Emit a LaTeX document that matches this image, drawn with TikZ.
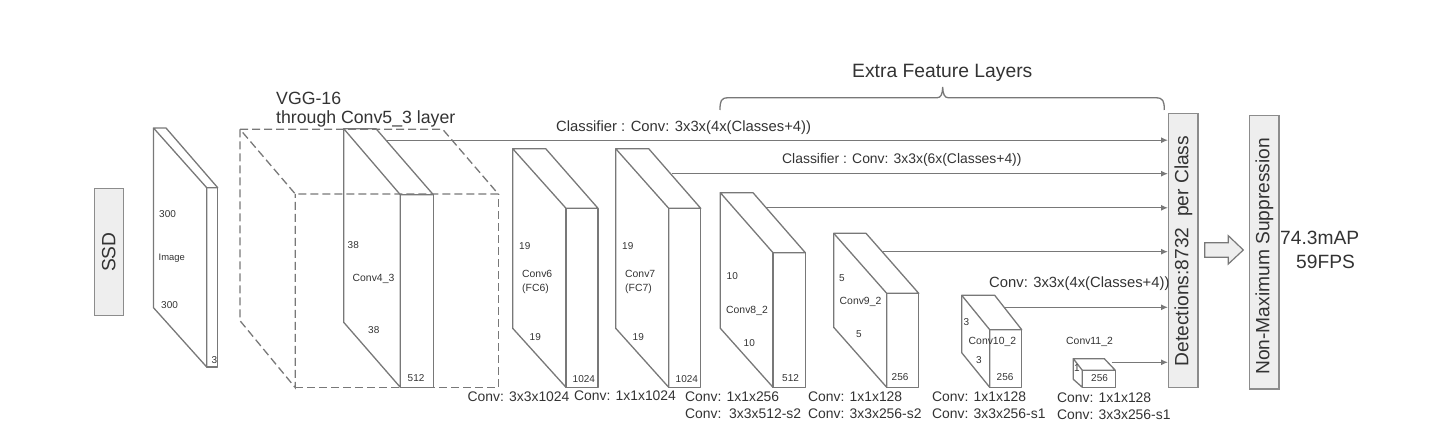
\documentclass[tikz,border=0pt]{standalone}
\usepackage{fontspec}
\setmainfont{Liberation Sans}
\usetikzlibrary{arrows.meta}
\definecolor{ln}{HTML}{787878}
\definecolor{tx}{HTML}{333333}
\definecolor{pan}{HTML}{EEEEEE}
\newcommand{\cuboid}[9]{% xl yt yl xf xr yf yb back-right name
  \draw[layer] (#1,#2) -- (#8,#2) -- (#5,#6) -- (#4,#6) -- cycle;
  \draw[layer] (#1,#2) -- (#1,#3) -- (#4,#7) -- (#4,#6);
  \draw[layer] (#4,#6) rectangle (#5,#7);
  \coordinate (#9) at (#5,#6);
}
\tikzset{
  layer/.style={draw=ln,line width=1.3pt,line join=round},
  dashedbox/.style={draw=ln,line width=1.3pt,dash pattern=on 8pt off 4pt},
  panel/.style={draw=ln!85,fill=pan,line width=1.4pt,inner sep=0pt,anchor=north west},
  arr/.style={draw=ln,line width=1.3pt,-{Latex[length=7pt,width=6pt]}},
  num/.style={text=tx,font=\fontsize{10}{11}\selectfont,inner sep=0pt,anchor=west},
  cname/.style={text=tx,font=\fontsize{10.4}{13.5}\selectfont,inner sep=0pt,anchor=west,align=left},
  small/.style={text=tx,font=\fontsize{13.9}{15}\selectfont,inner sep=0pt,anchor=west},
  wide/.style={text=tx,font=\fontsize{14.8}{15}\selectfont,inner sep=0pt,anchor=west},
  big/.style={text=tx,font=\fontsize{19.2}{22}\selectfont,inner sep=0pt},
}
\begin{document}
\begin{tikzpicture}[x=1pt,y=-1pt]
\useasboundingbox (0,0) rectangle (1435,435);
% panels
\node[panel,minimum width=28.8pt,minimum height=127pt] (ssd) at (93.7,188) {};
\node[big,rotate=90] at (ssd.center) {SSD};
\node[panel,minimum width=29.3pt,minimum height=274.3pt] (det) at (1168,112.7) {};
\node[big,rotate=90,xshift=-0.5pt] at (det.center) {Detections:8732\ \ per Class};
\node[panel,minimum width=29.3pt,minimum height=273.3pt] (nms) at (1249,115) {};
\node[big,rotate=90,xshift=-4pt] at (nms.center) {Non-Maximum Suppression};
% dashed VGG box
\draw[dashedbox] (240,129.3) -- (442.7,129.3) -- (498.3,194) -- (295.3,194) -- cycle;
\draw[dashedbox] (240,129.3) -- (240,320.7) -- (295.3,387.7) -- (295.3,194);
\draw[dashedbox] (295.3,387.7) -- (498.3,387.7) -- (498.3,194);
% layers
\cuboid{153.5}{128}{307.7}{206.7}{217.7}{187.7}{367}{166}{img}
\cuboid{343.7}{128.7}{322.3}{400.3}{433.3}{194.7}{387.3}{376}{c4}
\cuboid{512.7}{148.7}{328.3}{566}{598}{208.3}{387.3}{545.7}{c6}
\cuboid{615.7}{148.7}{328.3}{668.7}{700.7}{208.3}{387.3}{648.7}{c7}
\cuboid{720.3}{192.7}{328.3}{773}{805.3}{252.7}{387.3}{753}{c8}
\cuboid{833.7}{233.3}{327.3}{886.7}{918.7}{293.3}{387.3}{866}{c9}
\cuboid{961.7}{295.3}{352.7}{989.7}{1021.7}{329.7}{387.3}{994.7}{c10}
\cuboid{1073.3}{358.7}{379.3}{1082.3}{1115.3}{370.3}{387.3}{1104.3}{c11}
% connector start points
\coordinate (s4) at (386,140.2);
\coordinate (s7) at (671.7,173.7);
\coordinate (s8) at (766,207.8);
\coordinate (s9) at (882.7,251.7);
\coordinate (s10) at (1004,307.3);
\coordinate (s11) at (1111.7,362.3);
\foreach \s in {s4,s7,s8,s9,s10,s11}
  \draw[arr] (\s) -- (\s -| det.west);
% block arrow
\draw[draw=ln,fill=pan,line width=1.2pt] (1204.7,242.7) -- (1228.3,242.7) -- (1228.3,235.7) -- (1243.3,250) -- (1228.3,264) -- (1228.3,257.3) -- (1204.7,257.3) -- cycle;
% brace
\coordinate (bl) at (720,110);
\coordinate (br) at (1164.3,110);
\draw[draw=ln,line width=1.3pt] (bl) .. controls (720,101) and (721,97.8) .. (728,97.8) -- (937,97.8) .. controls (941,97.8) and (942.5,94) .. (942.7,87) .. controls (942.9,94) and (944.4,97.8) .. (948.4,97.8) -- (1156,97.8) .. controls (1163,97.8) and (1164.3,101) .. (br);
% text
\node[big,anchor=west,font=\fontsize{19.3}{22}\selectfont] (efl) at (852,72.5) {Extra Feature Layers};
\node[big,anchor=west,font=\fontsize{17.7}{20}\selectfont] (vgg1) at (276,98) {VGG-16};
\node[big,anchor=west,font=\fontsize{17.7}{20}\selectfont] (vgg2) at (276,119) {through Conv5\_3 layer};
\node[wide] (cl1) at (556,127.5) {Classifier : Conv: 3x3x(4x(Classes+4))};
\node[small] (cl2) at (782,159.5) {Classifier : Conv: 3x3x(6x(Classes+4))};
\node[wide] (cl3) at (989,284) {Conv: 3x3x(4x(Classes+4))};
\node[big,anchor=west] (map) at (1280,238) {74.3mAP};
\node[big,anchor=west] (fps) at (1296,262) {59FPS};
% layer labels
\node[num] at (159,214.5) {300};
\node[cname,font=\fontsize{9.4}{11}\selectfont] at (158.5,258) {Image};
\node[num] at (161,305.5) {300};
\node[num] at (211.5,360.5) {3};
\node[num] at (347.5,245.5) {38};
\node[cname] at (352.5,279) {Conv4\_3};
\node[num] at (368,330.5) {38};
\node[num] at (407.5,378.5) {512};
\node[num] at (519,246) {19};
\node[cname] at (522,282) {Conv6\\(FC6)};
\node[num] at (529.5,337.5) {19};
\node[num] at (572.5,379) {1024};
\node[num] at (622,246) {19};
\node[cname] at (625,282) {Conv7\\(FC7)};
\node[num] at (632.5,337.5) {19};
\node[num] at (675.5,379) {1024};
\node[num] at (726.5,276) {10};
\node[cname] at (726,311) {Conv8\_2};
\node[num] at (743.5,343.5) {10};
\node[num] at (782,378) {512};
\node[num] at (839,278.5) {5};
\node[cname] at (839.5,302) {Conv9\_2};
\node[num] at (856,334.5) {5};
\node[num] at (891.5,377.5) {256};
\node[num] at (963.5,322) {3};
\node[cname] at (968.5,341.5) {Conv10\_2};
\node[num] at (976,360) {3};
\node[num] at (996.5,377) {256};
\node[cname] at (1066,342) {Conv11\_2};
\node[num] at (1074,368) {1};
\node[num] at (1091,378) {256};
% conv labels
\node[small] at (467.5,397) {Conv: 3x3x1024};
\node[small] at (574,396) {Conv: 1x1x1024};
\node[small] at (685,397) {Conv: 1x1x256};
\node[small] at (685,414) {Conv:\ \ 3x3x512-s2};
\node[small] at (808,397) {Conv: 1x1x128};
\node[small] at (808,414) {Conv: 3x3x256-s2};
\node[small] at (932,397) {Conv: 1x1x128};
\node[small] at (932,414) {Conv: 3x3x256-s1};
\node[small] at (1057,398) {Conv: 1x1x128};
\node[small] at (1057,415) {Conv: 3x3x256-s1};
\end{tikzpicture}
\end{document}
